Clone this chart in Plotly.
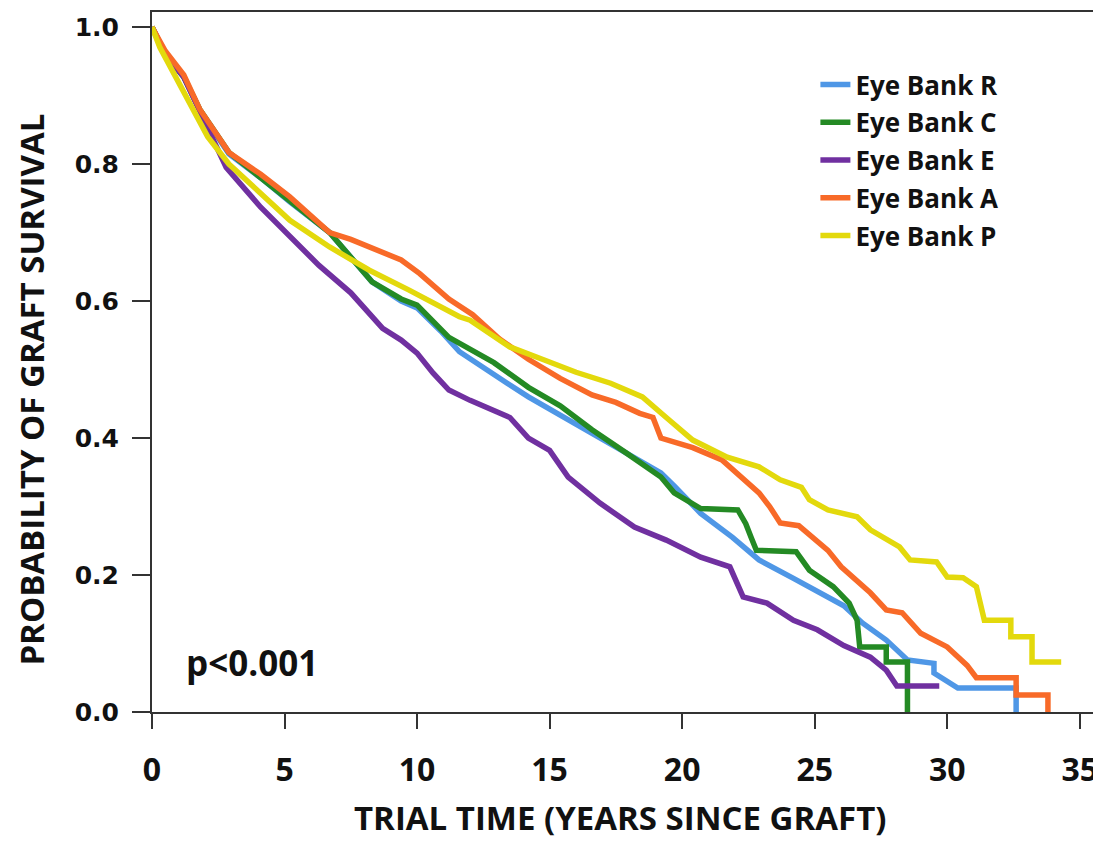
import plotly.graph_objects as go

# ---- data ----
bank_names = ["Eye Bank R", "Eye Bank C", "Eye Bank E", "Eye Bank A", "Eye Bank P"]

r_time = [0, 0.5, 1.2, 1.8, 2.9, 4.1, 5.2, 6.7, 8.3, 9.4, 10.0, 10.9, 11.6, 12.5, 13.4, 14.2, 15.3,
          16.6, 17.9, 19.2, 19.7, 20.7, 21.9, 22.9, 24.2, 25.2, 26.1, 26.8, 27.7, 28.5, 29.5, 29.5,
          30.4, 32.6, 32.6]
r_surv = [1.0, 0.96, 0.927, 0.879, 0.815, 0.78, 0.745, 0.70, 0.628, 0.60, 0.59, 0.556, 0.526, 0.504,
          0.48, 0.46, 0.436, 0.407, 0.378, 0.349, 0.33, 0.29, 0.255, 0.222, 0.195, 0.175, 0.155, 0.13,
          0.105, 0.076, 0.071, 0.057, 0.035, 0.035, 0.0]

c_time = [0, 0.5, 1.2, 1.8, 2.9, 4.1, 5.2, 6.7, 8.3, 9.4, 10.0, 11.2, 12.9, 14.2, 15.4, 16.6, 17.9,
          19.2, 19.7, 20.7, 22.1, 22.4, 22.6, 22.8, 24.3, 24.8, 25.7, 26.3, 26.6, 26.7, 27.7, 27.7,
          28.5, 28.5]
c_surv = [1.0, 0.96, 0.927, 0.88, 0.817, 0.78, 0.745, 0.70, 0.628, 0.603, 0.594, 0.547, 0.51, 0.474,
          0.447, 0.412, 0.378, 0.343, 0.32, 0.297, 0.295, 0.275, 0.255, 0.236, 0.234, 0.207, 0.183,
          0.159, 0.134, 0.095, 0.095, 0.073, 0.073, 0.0]

e_time = [0, 0.5, 1.2, 1.8, 2.8, 4.1, 5.2, 6.3, 7.5, 8.7, 9.4, 10.0, 10.6, 11.2, 12.0, 13.1, 13.5,
          14.2, 15.0, 15.7, 16.9, 18.2, 19.4, 20.7, 21.8, 22.3, 23.2, 24.2, 25.1, 26.1, 27.1, 27.7,
          28.1, 29.7]
e_surv = [1.0, 0.96, 0.927, 0.878, 0.795, 0.737, 0.695, 0.652, 0.612, 0.56, 0.543, 0.524, 0.495, 0.47,
          0.455, 0.436, 0.43, 0.40, 0.382, 0.343, 0.305, 0.27, 0.251, 0.226, 0.212, 0.168, 0.159,
          0.134, 0.12, 0.097, 0.08, 0.061, 0.038, 0.038]

a_time = [0, 0.5, 1.2, 1.8, 2.9, 4.1, 5.2, 6.7, 7.5, 8.5, 9.4, 10.1, 11.2, 12.1, 13.1, 14.2, 15.4,
          16.6, 17.5, 18.4, 18.9, 19.2, 20.4, 21.5, 22.3, 22.9, 23.3, 23.7, 24.4, 25.5, 26.0, 27.1,
          27.7, 28.3, 29.0, 30.0, 30.75, 31.1, 32.6, 32.6, 33.8, 33.8]
a_surv = [1.0, 0.965, 0.93, 0.88, 0.817, 0.785, 0.752, 0.70, 0.69, 0.675, 0.66, 0.64, 0.603, 0.58,
          0.545, 0.515, 0.487, 0.463, 0.452, 0.436, 0.43, 0.40, 0.386, 0.368, 0.34, 0.32, 0.30, 0.276,
          0.272, 0.236, 0.212, 0.174, 0.149, 0.145, 0.115, 0.095, 0.068, 0.05, 0.05, 0.025, 0.025, 0.0]

p_time = [0, 0.3, 1.2, 2.1, 2.9, 4.1, 5.2, 6.7, 8.2, 9.7, 11.6, 12.0, 13.5, 14.8, 16.0, 17.3, 18.5,
          19.4, 20.4, 21.7, 22.9, 23.7, 24.5, 24.8, 25.5, 26.6, 27.1, 28.2, 28.6, 29.6, 30.0, 30.6,
          31.1, 31.4, 32.4, 32.4, 33.2, 33.2, 34.3]
p_surv = [1.0, 0.97, 0.905, 0.84, 0.80, 0.758, 0.718, 0.679, 0.645, 0.616, 0.577, 0.572, 0.533, 0.514,
          0.496, 0.48, 0.46, 0.43, 0.397, 0.372, 0.358, 0.339, 0.328, 0.31, 0.295, 0.285, 0.266,
          0.241, 0.222, 0.219, 0.197, 0.196, 0.183, 0.134, 0.134, 0.11, 0.11, 0.073, 0.073]

x_ticks = [0, 5, 10, 15, 20, 25, 30, 35]
y_ticks = [0.0, 0.2, 0.4, 0.6, 0.8, 1.0]
y_tick_text = ["0.0", "0.2", "0.4", "0.6", "0.8", "1.0"]

colors = ["#4F97E6", "#248A24", "#7030A0", "#F86A28", "#E3D90C"]

series = [(r_time, r_surv), (c_time, c_surv), (e_time, e_surv), (a_time, a_surv), (p_time, p_surv)]

fig = go.Figure()
for i, (name, (t, s)) in enumerate(zip(bank_names, series)):
    fig.add_trace(go.Scatter(
        x=t, y=s, mode="lines", name=name, legendgroup=name,
        line=dict(color=colors[i], width=5.5),
    ))

title_font = dict(family="Open Sans", size=33, color="#111", weight=700)

fig.update_layout(
    width=1093, height=834,
    margin=dict(l=144, r=8, t=4, b=130, autoexpand=False),
    paper_bgcolor="white", plot_bgcolor="white",
    showlegend=True,
    legend=dict(
        x=0.705, y=0.93, xanchor="left", yanchor="top",
        font=dict(family="Open Sans", size=26, color="#111", weight=700),
        tracegroupgap=1, bgcolor="rgba(0,0,0,0)",
    ),
    xaxis=dict(
        range=[0, 35.5], tickvals=x_ticks, ticks="outside", ticklen=15, tickwidth=2,
        tickcolor="#333", showline=True, linecolor="#333", linewidth=2, mirror=True,
        showgrid=False, zeroline=False, automargin=False,
        tickfont=dict(family="Open Sans", size=32, color="#111", weight=700),
        ticklabelstandoff=14,
    ),
    yaxis=dict(
        range=[0, 1.022], tickvals=y_ticks, ticktext=y_tick_text, ticks="outside", ticklen=18,
        tickwidth=2, tickcolor="#333", showline=True, linecolor="#333", linewidth=2, mirror=True,
        showgrid=False, zeroline=False, automargin=False,
        tickfont=dict(family="DejaVu Sans", size=25, color="#111", weight=700),
        ticklabelstandoff=8,
    ),
    annotations=[
        dict(text="TRIAL TIME (YEARS SINCE GRAFT)", xref="paper", yref="paper", x=0.497, y=-0.151,
             xanchor="center", yanchor="middle", showarrow=False, font=title_font),
        dict(text="PROBABILITY OF GRAFT SURVIVAL", xref="paper", yref="paper", x=-0.129, y=0.46,
             xanchor="center", yanchor="middle", textangle=-90, showarrow=False, font=title_font),
        dict(text="p<0.001", xref="paper", yref="paper", x=0.034, y=0.071, xanchor="left",
             yanchor="middle", showarrow=False,
             font=dict(family="Open Sans", size=35, color="#111", weight=700)),
    ],
)

fig.write_html("out.html")
